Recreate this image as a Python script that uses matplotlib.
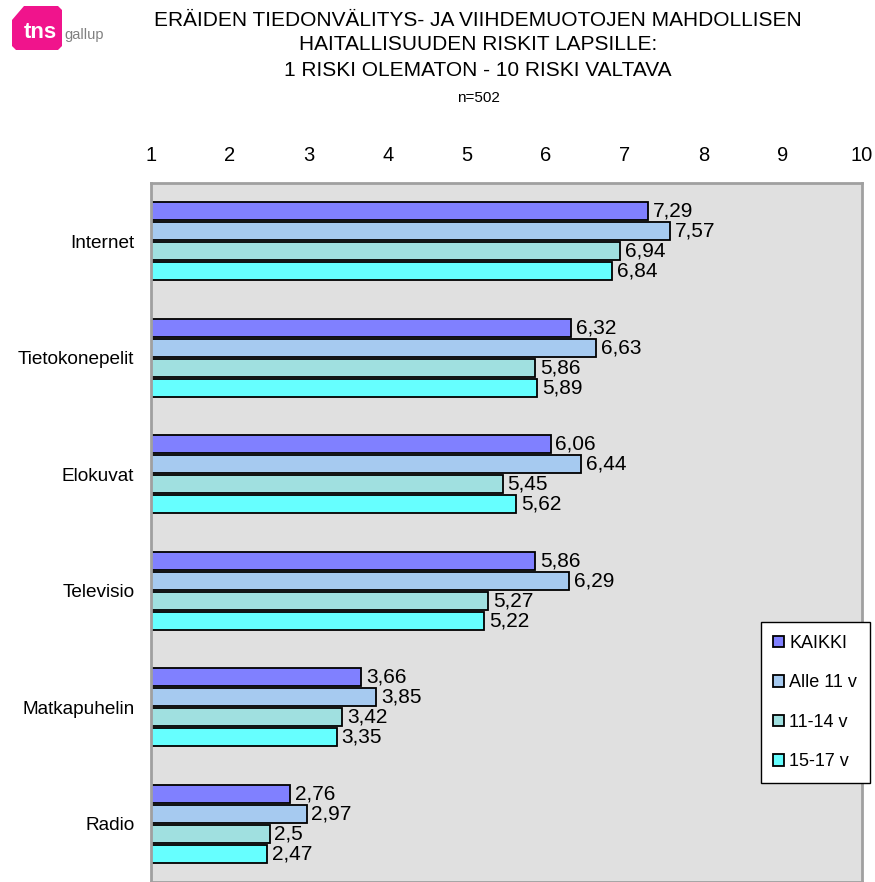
import matplotlib
matplotlib.use("Agg")
import matplotlib.pyplot as plt
from matplotlib.patches import Polygon
import numpy as np

plt.rcParams['font.family'] = ['Liberation Sans', 'DejaVu Sans']

categories = ["Internet", "Tietokonepelit", "Elokuvat", "Televisio", "Matkapuhelin", "Radio"]
series_names = ["KAIKKI", "Alle 11 v", "11-14 v", "15-17 v"]
kaikki = [7.29, 6.32, 6.06, 5.86, 3.66, 2.76]
alle11 = [7.57, 6.63, 6.44, 6.29, 3.85, 2.97]
v11_14 = [6.94, 5.86, 5.45, 5.27, 3.42, 2.50]
v15_17 = [6.84, 5.89, 5.62, 5.22, 3.35, 2.47]
x_ticks = [1, 2, 3, 4, 5, 6, 7, 8, 9, 10]

series = [kaikki, alle11, v11_14, v15_17]
colors = ["#8080FF", "#A6CAF0", "#A0E0E0", "#66FFFF"]

fig = plt.figure(figsize=(8.75, 8.82), dpi=100)
ax = fig.add_axes([151 / 875, 0.0, 711 / 875, 1 - 183 / 882])
ax.set_facecolor("#E0E0E0")

base = 1.0
stride = 0.172
height = 0.152
y_centers = np.arange(len(categories))
for si, (vals, col, name) in enumerate(zip(series, colors, series_names)):
    offs = (si - 1.5) * stride
    ys = y_centers + offs
    widths = [v - base for v in vals]
    ax.barh(ys, widths, left=base, height=height, color=col,
            edgecolor="black", linewidth=1.3, label=name)
    for y, v in zip(ys, vals):
        txt = f"{v:g}".replace(".", ",")
        ax.text(v + 0.06, y, txt, va="center", ha="left", fontsize=15)

ax.set_xlim(1, 10)
ax.set_ylim(len(categories) - 0.5, -0.5)
ax.xaxis.tick_top()
ax.set_xticks(x_ticks)
ax.set_xticklabels([str(t) for t in x_ticks], fontsize=14.5)
ax.tick_params(axis="x", length=0, pad=13)
ax.set_yticks(y_centers)
ax.set_yticklabels(categories, fontsize=13.7)
ax.tick_params(axis="y", length=0, pad=12)
for s in ax.spines.values():
    s.set_color("#A0A0A0")
    s.set_linewidth(2)

leg = ax.legend(loc="upper right", bbox_to_anchor=(870 / 875, 1 - 622 / 882),
                bbox_transform=fig.transFigure, fontsize=13, frameon=True,
                fancybox=False, edgecolor="black", framealpha=1,
                handlelength=0.6, handleheight=0.6, handletextpad=0.3,
                labelspacing=1.25, borderpad=0.7, borderaxespad=0)
leg.get_frame().set_linewidth(1)

title_lines = ["ERÄIDEN TIEDONVÄLITYS- JA VIIHDEMUOTOJEN MAHDOLLISEN",
               "HAITALLISUUDEN RISKIT LAPSILLE:",
               "1 RISKI OLEMATON - 10 RISKI VALTAVA"]
for line, ypix in zip(title_lines, [20, 45, 71]):
    fig.text(478 / 875, 1 - ypix / 882, line, ha="center", va="center", fontsize=15)
fig.text(478 / 875, 1 - 98 / 882, "n=502", ha="center", va="center", fontsize=11)

# tns gallup logo
W, H = 875, 882
pts = [(12, 20), (24, 6), (58, 6), (62, 10), (62, 46), (58, 50), (16, 50), (12, 46)]
logo = Polygon([(x / W, 1 - y / H) for x, y in pts], closed=True,
               transform=fig.transFigure, facecolor="#F0148C", edgecolor="none")
fig.patches.append(logo)
fig.text(40 / W, 1 - 33 / H, "tns", ha="center", va="center", fontsize=16,
         fontweight="bold", color="white")
fig.text(64 / W, 1 - 35 / H, "gallup", ha="left", va="center", fontsize=10.5,
         color="#808080")

fig.savefig("out.png", dpi=100)
